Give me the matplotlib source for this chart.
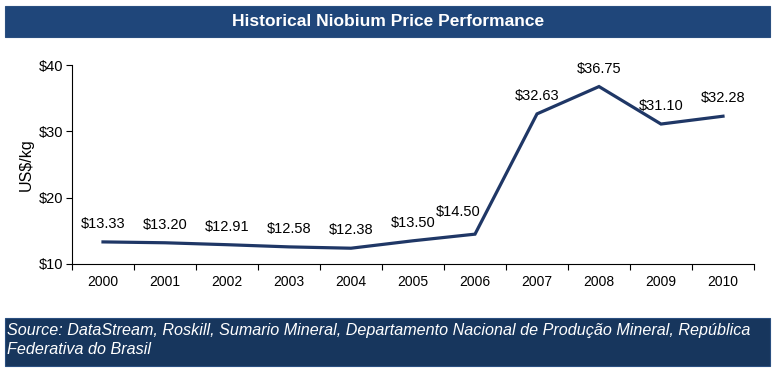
import matplotlib
matplotlib.use("Agg")
import matplotlib.pyplot as plt
from matplotlib.patches import Rectangle

plt.rcParams['font.family'] = ['Liberation Sans', 'DejaVu Sans']

years = ["2000", "2001", "2002", "2003", "2004", "2005", "2006", "2007", "2008", "2009", "2010"]
prices = [13.33, 13.20, 12.91, 12.58, 12.38, 13.50, 14.50, 32.63, 36.75, 31.10, 32.28]
yticks = [10, 20, 30, 40]
title = "Historical Niobium Price Performance"
ylabel = "US$/kg"
source = ("Source: DataStream, Roskill, Sumario Mineral, Departamento Nacional de Produção Mineral, República\n"
          "Federativa do Brasil")

line_color = "#1F3766"
fig = plt.figure(figsize=(7.77, 3.69), dpi=100)

# Title bar
fig.patches.append(Rectangle((5/777, 1-37/369), 765/777, 31/369, transform=fig.transFigure,
                             facecolor="#1F467A", edgecolor="#2A4F80", lw=0.8, zorder=0))
fig.text(0.5, 1-21.5/369, title, color="white", fontsize=12.5, fontweight="bold",
         ha="center", va="center")

# Source bar
fig.patches.append(Rectangle((5/777, 1-366/369), 765/777, 48/369, transform=fig.transFigure,
                             facecolor="#17365D", edgecolor="#2A4F80", lw=0.8, zorder=0))
fig.text(7/777, 1-340/369, source, color="white", fontsize=11.6, style="italic",
         ha="left", va="center", linespacing=1.3)

ax = fig.add_axes([72/777, 1-264/369, (754-72)/777, (264-65)/369])
x = list(range(len(years)))
ax.plot(x, prices, color=line_color, lw=2.3, solid_joinstyle="miter")
for i, (xi, p) in enumerate(zip(x, prices)):
    steep_next = i + 1 < len(prices) and prices[i + 1] - p > 10
    ax.annotate(f"${p:.2f}", (xi, p), xytext=((-12, 16) if steep_next else (0, 13)),
                textcoords="offset points",
                ha="center", va="center", fontsize=10.5, color="black")

ax.set_xlim(-0.5, len(years) - 0.5)
ax.set_ylim(10, 40)
ax.set_yticks(yticks)
ax.set_yticklabels([f"${v}" for v in yticks], fontsize=10.5)
ax.set_xticks(x)
ax.set_xticklabels(years, fontsize=10)
ax.set_xticks([i - 0.5 for i in range(len(years) + 1)], minor=True)
ax.tick_params(axis="x", which="major", length=0, pad=8)
ax.tick_params(axis="x", which="minor", length=4, width=0.8, direction="out")
ax.tick_params(axis="y", length=4, width=0.8, direction="out", pad=2)
for s in ["top", "right"]:
    ax.spines[s].set_visible(False)
for s in ["left", "bottom"]:
    ax.spines[s].set_linewidth(0.8)
ax.set_ylabel(ylabel, fontsize=11.5, labelpad=4)

fig.savefig("out.png", dpi=100)
